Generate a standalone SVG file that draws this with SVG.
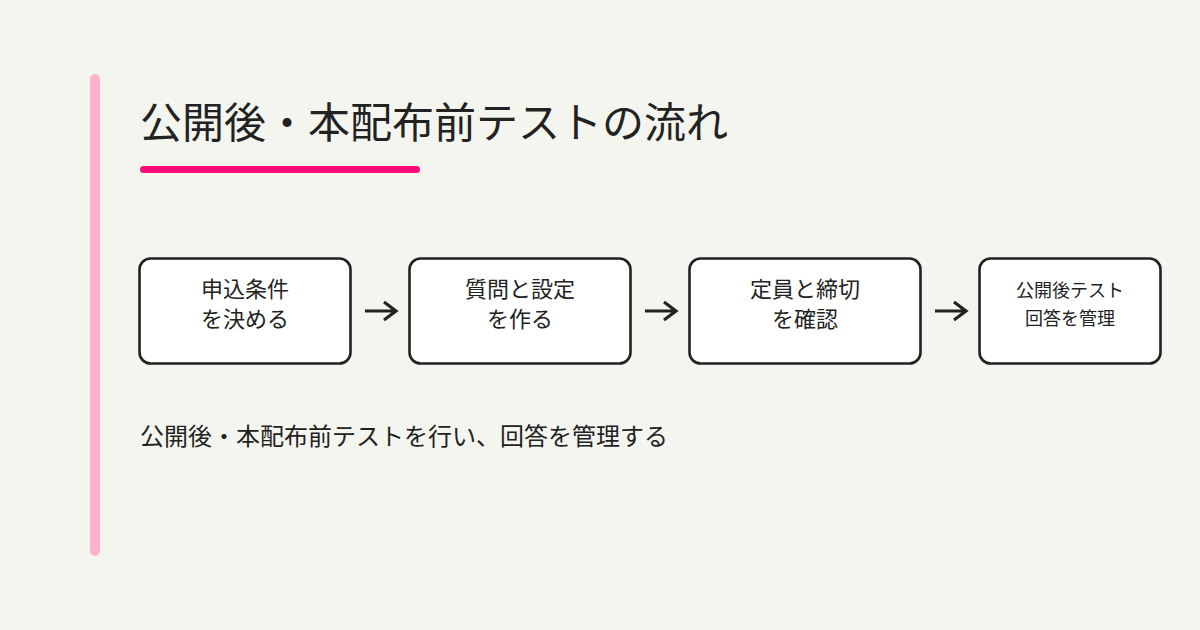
<svg xmlns="http://www.w3.org/2000/svg" width="1200" height="630" viewBox="0 0 1200 630">
<style>
.t{font-family:"Noto Sans CJK JP","Noto Sans",sans-serif;fill:#222222}
.box{fill:#ffffff;stroke:#222222;stroke-width:2.6}
.lbl{font-size:22px;text-anchor:middle}
.sm{font-size:18px;text-anchor:middle}
.arr{fill:none;stroke:#222222;stroke-width:3.2;stroke-linecap:butt;stroke-linejoin:miter}
</style>
<rect width="1200" height="630" fill="#F5F5F0"/>
<rect x="90" y="74" width="10" height="482" rx="5" fill="#FFB1CD"/>
<text class="t" x="140" y="138" font-size="42">公開後・本配布前テストの流れ</text>
<rect x="140" y="166" width="280" height="7" rx="3.5" fill="#FF0A78"/>
<g id="connectors">
<path class="arr" d="M365 311H396M384 302L396 311L384 320"/>
<path class="arr" d="M645 311H676M664 302L676 311L664 320"/>
<path class="arr" d="M935 311H966M954 302L966 311L954 320"/>
</g>
<g id="n1"><rect class="box" x="139.5" y="258.5" width="211" height="105" rx="11"/>
<text class="t lbl" x="245" y="297">申込条件</text><text class="t lbl" x="245" y="327">を決める</text></g>
<g id="n2"><rect class="box" x="409.5" y="258.5" width="221" height="105" rx="11"/>
<text class="t lbl" x="520" y="297">質問と設定</text><text class="t lbl" x="520" y="327">を作る</text></g>
<g id="n3"><rect class="box" x="689.5" y="258.5" width="231" height="105" rx="11"/>
<text class="t lbl" x="805" y="297">定員と締切</text><text class="t lbl" x="805" y="327">を確認</text></g>
<g id="n4"><rect class="box" x="979.5" y="258.5" width="181" height="105" rx="11"/>
<text class="t sm" x="1070" y="297">公開後テスト</text><text class="t sm" x="1070" y="325">回答を管理</text></g>
<text class="t" x="140" y="445" font-size="24">公開後・本配布前テストを行い、回答を管理する</text>
</svg>
